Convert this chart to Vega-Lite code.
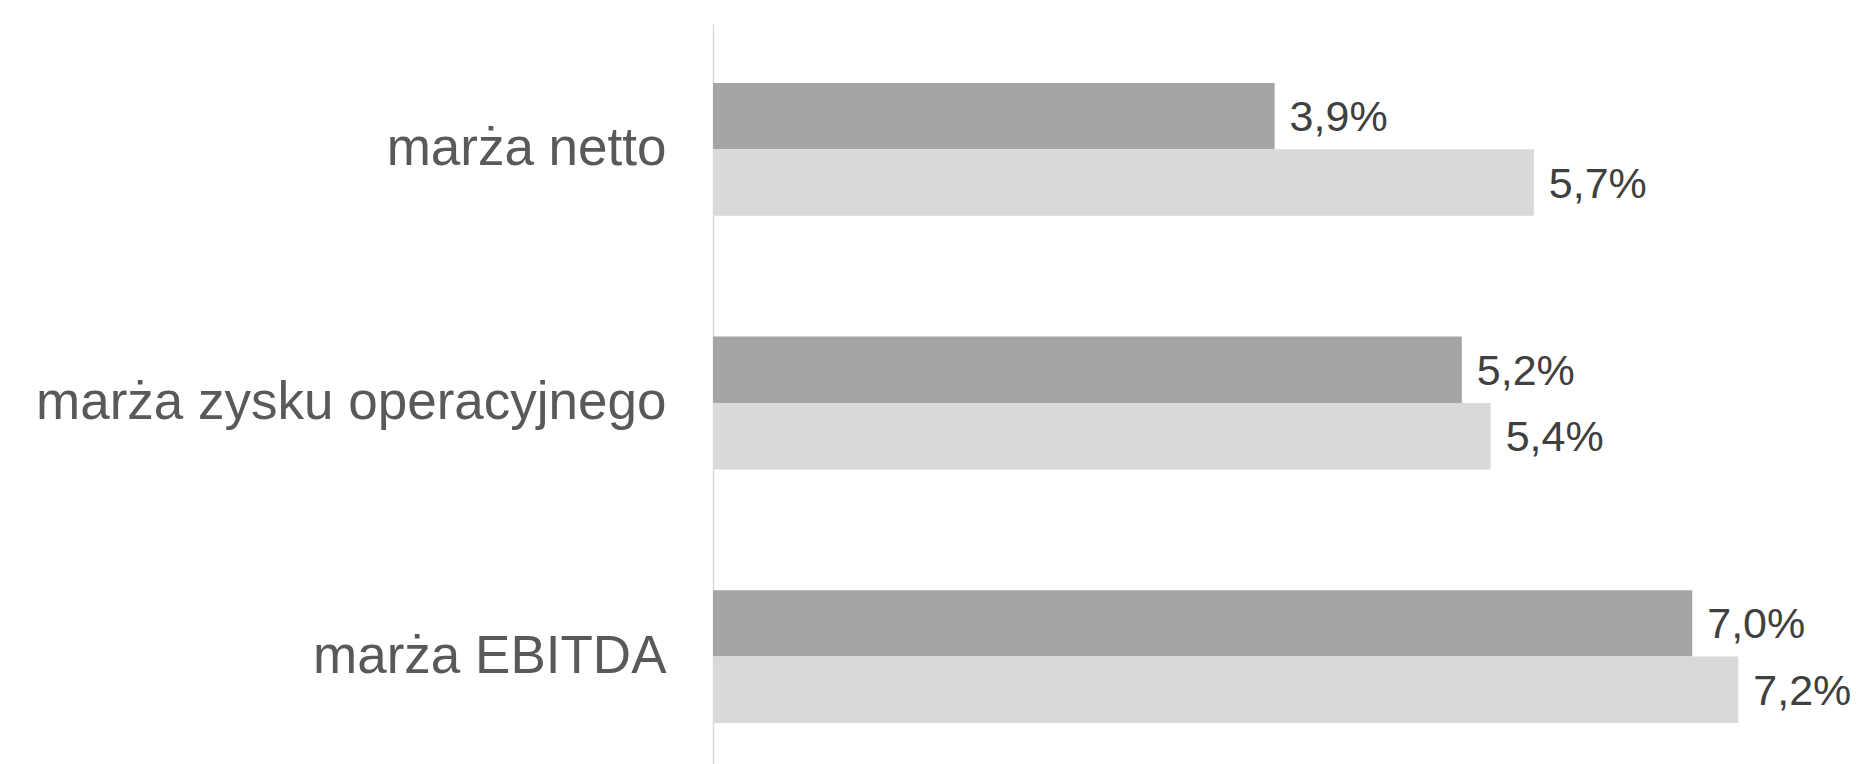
{
  "$schema": "https://vega.github.io/schema/vega-lite/v6.json",
  "autosize": "none",
  "padding": {"left": 713, "top": 24, "right": 0, "bottom": 0},
  "width": 1146,
  "height": 740,
  "background": "white",
  "config": {"view": {"stroke": null}},
  "data": {
    "values": [
      {"kategoria": "marża netto", "seria": "seria 1", "wartosc": 3.9, "etykieta": "3,9%"},
      {"kategoria": "marża netto", "seria": "seria 2", "wartosc": 5.7, "etykieta": "5,7%"},
      {"kategoria": "marża zysku operacyjnego", "seria": "seria 1", "wartosc": 5.2, "etykieta": "5,2%"},
      {"kategoria": "marża zysku operacyjnego", "seria": "seria 2", "wartosc": 5.4, "etykieta": "5,4%"},
      {"kategoria": "marża EBITDA", "seria": "seria 1", "wartosc": 6.8, "etykieta": "7,0%"},
      {"kategoria": "marża EBITDA", "seria": "seria 2", "wartosc": 7.12, "etykieta": "7,2%"}
    ]
  },
  "encoding": {
    "y": {
      "field": "kategoria",
      "type": "nominal",
      "sort": ["marża netto", "marża zysku operacyjnego", "marża EBITDA"],
      "scale": {"paddingInner": 0.4763, "paddingOuter": 0.197, "align": 0.59},
      "axis": {
        "title": null,
        "ticks": false,
        "domain": true,
        "domainColor": "#d9d9d9",
        "domainWidth": 1.5,
        "labelFont": "Liberation Sans",
        "labelFontSize": 53,
        "labelColor": "#595959",
        "labelPadding": 47,
        "labelLimit": 0
      }
    },
    "yOffset": {
      "field": "seria",
      "type": "nominal",
      "sort": ["seria 1", "seria 2"],
      "scale": {"paddingInner": 0, "paddingOuter": 0}
    },
    "x": {
      "field": "wartosc",
      "type": "quantitative",
      "scale": {"domain": [0, 7.958], "nice": false, "zero": true},
      "axis": null
    }
  },
  "layer": [
    {
      "mark": {"type": "bar", "cornerRadius": 0},
      "encoding": {
        "color": {
          "field": "seria",
          "type": "nominal",
          "scale": {"domain": ["seria 1", "seria 2"], "range": ["#a5a5a5", "#d9d9d9"]},
          "legend": null
        }
      }
    },
    {
      "mark": {
        "type": "text",
        "align": "left",
        "baseline": "middle",
        "dx": 15,
        "dy": 2,
        "font": "Liberation Sans",
        "fontSize": 43,
        "color": "#404040"
      },
      "encoding": {
        "text": {"field": "etykieta", "type": "nominal"}
      }
    }
  ]
}
